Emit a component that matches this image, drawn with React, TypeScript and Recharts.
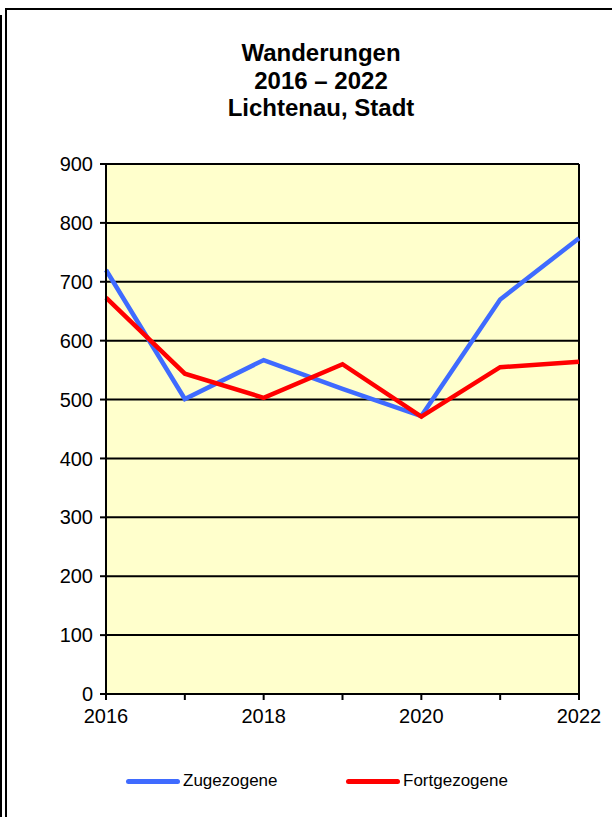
import React from "react";
import {
  LineChart,
  Line,
  XAxis,
  YAxis,
  CartesianGrid,
  ReferenceLine,
} from "recharts";

// Jahre und Werte
const years = [2016, 2017, 2018, 2019, 2020, 2021, 2022];
const zugezogene = [720, 501, 567, 518, 472, 670, 774];
const fortgezogene = [673, 544, 503, 560, 471, 555, 564];
const yTicks = [0, 100, 200, 300, 400, 500, 600, 700, 800, 900];
const titleLines = ["Wanderungen", "2016 – 2022", "Lichtenau, Stadt"];
const seriesNames = ["Zugezogene", "Fortgezogene"];
const seriesColors = ["#3F6BFF", "#FF0000"];

const data = years.map((year, i) => ({
  year,
  zu: zugezogene[i],
  fort: fortgezogene[i],
}));

const font = "'Liberation Sans', Arial, sans-serif";

export default function App() {
  return (
    <div
      style={{
        position: "absolute",
        left: 0,
        top: 0,
        width: 612,
        height: 817,
        overflow: "hidden",
        background: "#fff",
        fontFamily: font,
      }}
    >
      {/* frame */}
      <div style={{ position: "absolute", left: 0, top: 15, width: 2, height: 810, background: "#000" }} />
      <div
        style={{
          position: "absolute",
          left: 5,
          top: 8,
          width: 640,
          height: 840,
          border: "2px solid #000",
        }}
      />

      {/* title */}
      <div
        style={{
          position: "absolute",
          left: 121,
          width: 400,
          top: 39,
          textAlign: "center",
          fontWeight: "bold",
          fontSize: 24,
          lineHeight: "27.5px",
          color: "#000",
        }}
      >
        {titleLines.map((t) => (
          <div key={t}>{t}</div>
        ))}
      </div>

      <div style={{ position: "absolute", left: 0, top: 0 }}>
        <LineChart
          width={612}
          height={817}
          data={data}
          margin={{ top: 164, right: 33, left: 46, bottom: 83 }}
        >
          <CartesianGrid
            vertical={false}
            fill="#FFFFCC"
            fillOpacity={1}
            stroke="#000"
            strokeWidth={2}
          />
          <XAxis
            dataKey="year"
            type="number"
            domain={[2016, 2022]}
            ticks={years}
            interval={0}
            height={40}
            tickSize={6}
            tickMargin={9}
            tickFormatter={(v: number) => (v % 2 === 0 ? String(v) : "")}
            stroke="#000"
            strokeWidth={2}
            tick={{ fill: "#000", fontSize: 20, fontFamily: font }}
          />
          <YAxis
            domain={[0, 900]}
            ticks={yTicks}
            interval={0}
            width={60}
            tickSize={6}
            tickMargin={7}
            stroke="#000"
            strokeWidth={2}
            tick={{ fill: "#000", fontSize: 20, fontFamily: font }}
          />
          <ReferenceLine x={2022} stroke="#000" strokeWidth={2} />
          <Line
            dataKey="zu"
            name={seriesNames[0]}
            type="linear"
            stroke={seriesColors[0]}
            strokeWidth={4.5}
            dot={false}
            isAnimationActive={false}
          />
          <Line
            dataKey="fort"
            name={seriesNames[1]}
            type="linear"
            stroke={seriesColors[1]}
            strokeWidth={4.5}
            dot={false}
            isAnimationActive={false}
          />
        </LineChart>
      </div>

      {/* legend */}
      {seriesNames.map((name, i) => (
        <div
          key={name}
          style={{
            position: "absolute",
            left: i === 0 ? 126 : 346,
            top: 771,
            display: "flex",
            alignItems: "center",
            fontSize: 17,
            color: "#000",
          }}
        >
          <div
            style={{
              width: 54,
              height: 5,
              borderRadius: 3,
              background: seriesColors[i],
              marginRight: 3,
            }}
          />
          <span>{name}</span>
        </div>
      ))}
    </div>
  );
}
